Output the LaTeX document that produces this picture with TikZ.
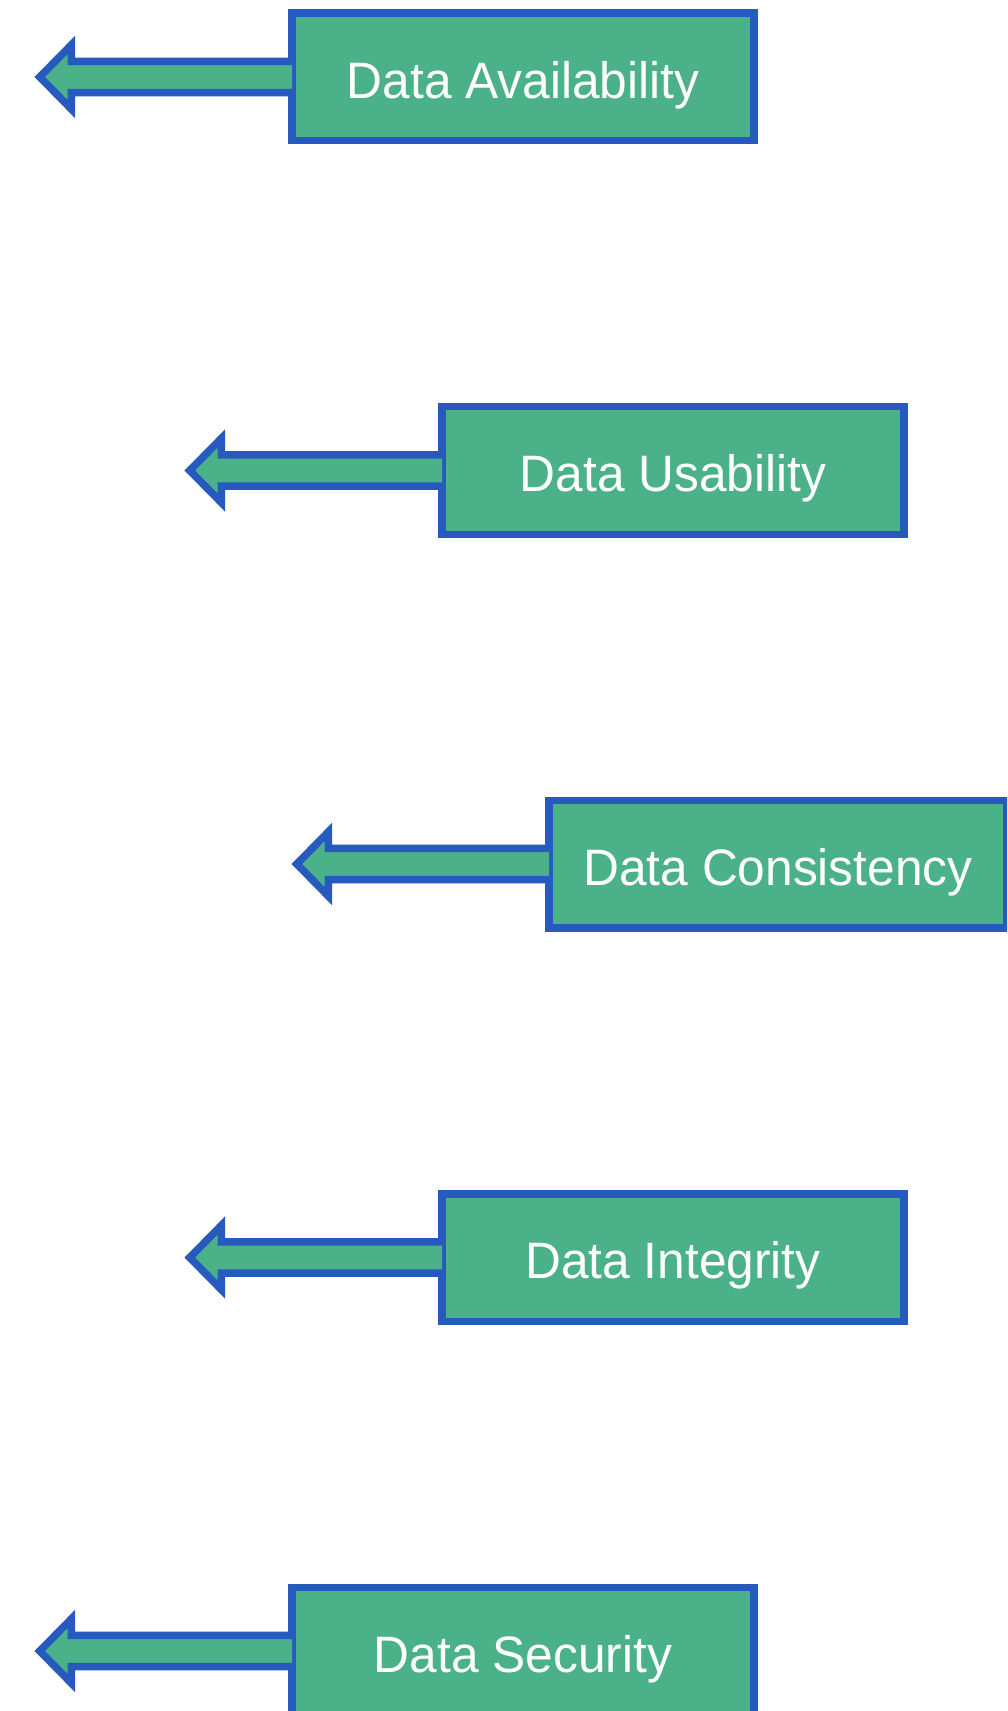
\documentclass[tikz,border=0pt]{standalone}
\usepackage{fontspec}
\setmainfont{Liberation Sans}[FakeStretch=0.97]
\usetikzlibrary{calc}
\definecolor{bgreen}{RGB}{74,177,137}
\definecolor{bblue}{RGB}{38,90,190}
\newcommand\leftarrowfrom[1]{%
  \draw[arrowshape] ($(#1.west)+(3.75,-15.6)$) -- ($(#1.west)+(-217,-15.6)$)
    -- ($(#1.west)+(-217,-32)$) -- ($(#1.west)+(-248.5,0)$)
    -- ($(#1.west)+(-217,32)$) -- ($(#1.west)+(-217,15.6)$)
    -- ($(#1.west)+(3.75,15.6)$);}
\begin{document}
\begin{tikzpicture}[x=0.5pt,y=-0.5pt,
  box/.style={draw=bblue, fill=bgreen, line width=3.75pt, minimum width=231pt,
    minimum height=63.75pt, inner sep=0pt, text=white, text height=21.3pt, text depth=0pt,
    font=\fontsize{25.6}{30}\selectfont},
  arrowshape/.style={fill=bgreen, draw=bblue, line width=3.75pt, line join=miter}]
\useasboundingbox (0,0) rectangle (1007,1711);
\clip (0,0) rectangle (1007,1711);
\node[box] (avail) at (523,77) {Data Availability};
\node[box] (usab) at (673,470.5) {Data Usability};
\node[box, minimum width=229pt] (cons) at (778,864) {Data Consistency};
\node[box] (integ) at (673,1257.5) {Data Integrity};
\node[box] (secu) at (523,1651) {Data Security};
\leftarrowfrom{avail}
\leftarrowfrom{usab}
\leftarrowfrom{cons}
\leftarrowfrom{integ}
\leftarrowfrom{secu}
\end{tikzpicture}
\end{document}
